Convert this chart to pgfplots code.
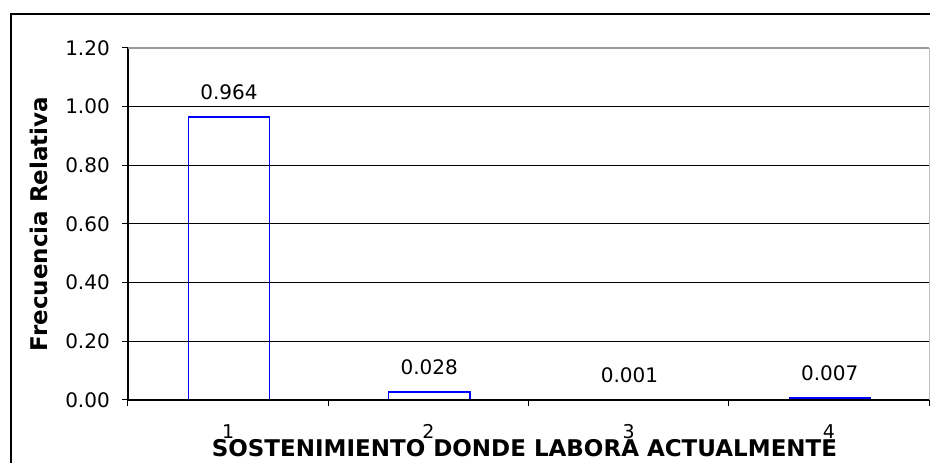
\documentclass[border=0pt]{standalone}
\usepackage{fontspec}
\setmainfont{DejaVu Sans}
\usepackage{pgfplots}
\pgfplotsset{compat=1.18}
\definecolor{barblue}{RGB}{0,0,255}
\begin{document}
\begin{tikzpicture}
\useasboundingbox (0,0) rectangle (930pt,463pt);
\fill[white] (0,0) rectangle (930pt,463pt);
\draw[line width=2pt] (11pt,-10pt) -- (11pt,448.5pt) -- (945pt,448.5pt);
\begin{axis}[
  at={(128pt,63pt)}, anchor=south west,
  scale only axis, width=801pt, height=352pt,
  xmin=0.5, xmax=4.5, ymin=0, ymax=1.2,
  axis x line=bottom, axis y line=left,
  axis line style={-, black, line width=1.5pt},
  axis on top,
  clip=false,
  ybar, bar width=81pt, bar shift=0.875pt,
  tick align=outside, major tick length=6pt,
  tick style={black, line width=1pt},
  ytick={0,0.2,0.4,0.6,0.8,1.0},
  extra y ticks={1.2},
  extra y tick style={grid style={gray!80, line width=1.2pt}},
  ymajorgrids, grid style={black, line width=1pt},
  xtick={0.5,1.5,2.5,3.5,4.5},
  xticklabels={1,2,3,4},
  x tick label as interval,
  /pgf/number format/fixed, /pgf/number format/fixed zerofill,
  /pgf/number format/precision=2, /pgf/number format/assume math mode=true,
  yticklabel style={anchor=east, inner sep=0pt, xshift=-12pt, font=\fontsize{20}{24}\selectfont},
  xticklabel style={anchor=base, inner sep=0pt, yshift=-32pt, font=\fontsize{19}{23}\selectfont},
  xlabel={SOSTENIMIENTO DONDE LABORA ACTUALMENTE},
  xlabel style={at={(axis description cs:0.495,-0.1605)}, anchor=base, inner sep=0pt, font=\bfseries\fontsize{23}{27}\selectfont},
  ylabel={Frecuencia Relativa},
  ylabel style={at={(axis description cs:-0.1011,0.5)}, anchor=base, inner sep=0pt, font=\bfseries\fontsize{23}{27}\selectfont},
  nodes near coords, point meta=explicit symbolic,
  every node near coord/.append style={anchor=base, yshift=17.5pt, inner sep=0pt, text=black, font=\fontsize{20}{24}\selectfont},
]
\draw[gray!50, line width=1pt] (rel axis cs:1,0) -- (rel axis cs:1,1);
\addplot[draw=barblue, color=barblue, fill=none, line width=1.5pt]
  coordinates {(1,0.964)[0.964] (2,0.028)[0.028] (3,0.001)[0.001] (4,0.007)[0.007]};
\end{axis}
\end{tikzpicture}
\end{document}
